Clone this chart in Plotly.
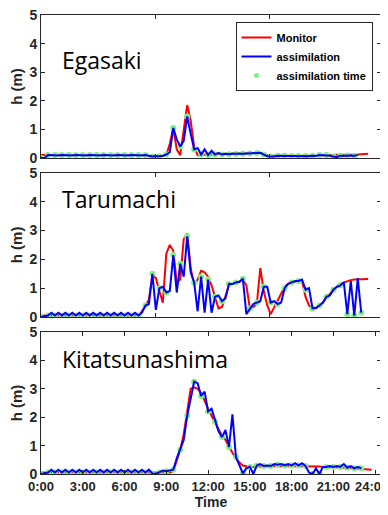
import plotly.graph_objects as go
from plotly.subplots import make_subplots

# time grid in hours (every 15 min)
times = [i * 0.25 for i in range(97)]
tick_vals = [0, 3, 6, 9, 12, 15, 18, 21, 24]
tick_text = ["0:00", "3:00", "6:00", "9:00", "12:00", "15:00", "18:00", "21:00", "24:00"]
stations = ["Egasaki", "Tarumachi", "Kitatsunashima"]

N = None
# ---------------- Egasaki ----------------
ega_monitor = (
    [0.1] * 31 + [0.06, 0.06, 0.06, 0.07, 0.08] +
    [0.1, 0.5, 1.05, 0.3, 0.1, 0.9, 1.85, 1.3, 0.4, 0.1,
     0.1, 0.1, 0.11, 0.12, 0.13, 0.14, 0.15, 0.15, 0.15, 0.16,
     0.16, 0.16, 0.17, 0.17, 0.17, 0.18, 0.18, 0.18, 0.15, 0.1,
     0.08, 0.08, 0.08, 0.07, 0.07, 0.07, 0.08, 0.08, 0.08, 0.08,
     0.08, 0.08, 0.08, 0.09, 0.09, 0.09, 0.1, 0.1, 0.1, 0.1,
     0.1, 0.1, 0.1, 0.11, 0.11, 0.12, 0.13, 0.14, 0.15, N, N]
)
ega_assim = (
    [0.0, 0.0] + [0.1, 0.09] * 14 + [0.1, 0.07, 0.05, 0.07, 0.06, 0.08] +
    [0.12, 0.2, 1.05, 0.65, 0.4, 0.6, 1.45, 0.85, 0.3, 0.35,
     0.12, 0.3, 0.1, 0.25, 0.12, 0.18, 0.12, 0.15, 0.13, 0.15,
     0.14, 0.15, 0.15, 0.16, 0.16, 0.17, 0.17, 0.18, 0.12, 0.06,
     0.05, 0.05, 0.08, 0.07, 0.08, 0.07, 0.07, 0.06, 0.07, 0.06,
     0.07, 0.06, 0.08, 0.07, 0.1, 0.1, 0.1, 0.08, 0.05, 0.03,
     0.08, 0.07, 0.09, 0.08, 0.08, 0.1] + [N] * 5
)
# ---------------- Tarumachi ----------------
tar_monitor = (
    [0.05] * 29 +
    [0.2, 0.4, 0.6, 1.45, 1.35, 0.9, 0.5, 2.2, 2.5, 2.3,
     1.2, 1.3, 2.7, 2.9, 1.7, 1.1, 1.3, 1.6, 1.55, 1.4,
     1.1, 0.7, 0.3, 0.35, 0.7, 1.1, 1.15, 1.18, 1.22, 1.3,
     1.1, 0.3, 0.35, 0.45, 1.7, 0.9, 0.4, 0.1, 0.35, 0.55,
     0.85, 1.05, 1.15, 1.2, 1.22, 1.25, 1.25, 0.7, 0.4, 0.28,
     0.3, 0.38, 0.5, 0.68, 0.8, 0.95, 1.05, 1.15, 1.2, 1.25,
     1.28, 1.3, 1.3, 1.32, 1.32, 1.32, N, N]
)
tar_assim = (
    [0.0, 0.02] + [0.05, 0.15] * 13 + [0.05, 0.15] +
    [0.4, 0.45, 1.5, 0.25, 1.0, 1.05, 0.85, 0.9, 2.15, 0.85,
     1.85, 1.4, 2.8, 1.55, 1.2, 0.2, 1.4, 0.15, 1.3, 0.15,
     0.7, 0.75, 0.55, 0.65, 1.15, 1.15, 1.2, 1.22, 1.33, 0.1,
     0.3, 0.45, 0.5, 0.55, 1.05, 1.05, 0.5, 0.55, 0.45, 0.5,
     1.0, 1.15, 1.2, 1.25, 1.25, 1.3, 0.95, 1.0, 0.3, 0.32,
     0.4, 0.5, 0.7, 0.75, 0.95, 1.05, 1.1, 1.2, 0.1, 1.25,
     0.05, 1.35, 0.15] + [N] * 4
)
# ---------------- Kitatsunashima ----------------
kit_monitor = (
    [0.05] * 38 +
    [0.1, 0.45, 0.85, 1.4, 2.25, 3.0, 3.05, 3.0, 2.85, 2.55,
     2.3, 2.05, 1.8, 1.55, 1.35, 1.2, 0.95, 0.75, 0.55, 0.4,
     0.3, 0.27,
     0.25, 0.25, 0.25, 0.26, 0.26, 0.27, 0.27, 0.28, 0.28, 0.28,
     0.28, 0.28, 0.28, 0.28, 0.28, 0.27, 0.27, 0.27, 0.26, 0.26,
     0.26, 0.25, 0.25, 0.25, 0.25,
     0.24, 0.23, 0.22, 0.21, 0.2, 0.19, 0.18, 0.17, 0.16, 0.15, 0.15, N]
)
kit_assim = (
    [0.0, 0.02] + [0.05, 0.15] * 15 +
    [0.02, 0.0, 0.05, 0.12, 0.1, 0.12, 0.15, 0.55, 0.85, 1.2,
     2.05, 2.6, 3.25, 3.2, 2.75, 2.9, 2.2, 2.3, 1.85, 1.5,
     1.3, 1.55, 0.95, 2.1, 0.6, 0.3, 0.02, 0.2, 0.25, 0.0,
     0.3, 0.35, 0.28, 0.3, 0.28, 0.35, 0.33, 0.35, 0.3, 0.35,
     0.3, 0.38, 0.3, 0.38, 0.28, 0.05, 0.0, 0.2, 0.0, 0.25,
     0.25, 0.28, 0.25, 0.28, 0.25, 0.35, 0.22, 0.28, 0.2, 0.25,
     0.2] + [N] * 4
)

monitor = [ega_monitor, tar_monitor, kit_monitor]
assim = [ega_assim, tar_assim, kit_assim]

fig = make_subplots(rows=3, cols=1)
domains = [[0.6885, 1.0], [0.342, 0.656], [0.0, 0.3094]]
RED, BLUE, GREEN = "#ff0000", "#0000ff", "#80f080"
AX = "#262626"
FONT = "Liberation Sans"

for k in range(3):
    r = k + 1
    # assimilation times every 30 min
    at_x = [times[i] for i in range(0, 97, 2) if assim[k][i] is not None]
    at_y = [assim[k][i] for i in range(0, 97, 2) if assim[k][i] is not None]
    fig.add_trace(go.Scatter(x=times, y=monitor[k], mode="lines", name="Monitor",
                             line=dict(color=RED, width=2), showlegend=(k == 0)), row=r, col=1)
    fig.add_trace(go.Scatter(x=at_x, y=at_y, mode="markers", name="assimilation time",
                             marker=dict(color=GREEN, size=6), showlegend=False), row=r, col=1)
    fig.add_trace(go.Scatter(x=times, y=assim[k], mode="lines", name="assimilation",
                             line=dict(color=BLUE, width=2), showlegend=(k == 0)), row=r, col=1)

# legend entry for the assimilation-time markers
fig.add_trace(go.Scatter(x=[None], y=[None], mode="markers", name="assimilation time",
                         marker=dict(color=GREEN, size=5), showlegend=True), row=1, col=1)

# last label padded so it stays inside the window, like the reference
bottom_text = tick_text[:-1] + [tick_text[-1] + "&nbsp;&nbsp;"]

label_y = [3.42, 4.1, 4.05]
for k in range(3):
    r = k + 1
    yname = "yaxis" if k == 0 else f"yaxis{r}"
    xname = "xaxis" if k == 0 else f"xaxis{r}"
    bottom = (k == 2)
    fig.layout[xname].update(
        domain=[0, 1], range=[0, 24.42], showline=True, mirror="ticks",
        linecolor=AX, linewidth=1, ticks="inside", ticklen=4, tickcolor=AX,
        showgrid=False, zeroline=False, automargin=False,
        ticklabeloverflow="allow",
        tickvals=tick_vals if bottom else [8.22, 16.44],
        ticktext=bottom_text if bottom else ["", ""],
        tickfont=dict(family=FONT, size=13, color=AX, weight="bold"),
        title=dict(text="Time", font=dict(family=FONT, size=14, color=AX, weight="bold"),
                   standoff=0) if bottom else None,
    )
    fig.layout[yname].update(
        domain=domains[k], range=[0, 5], showline=True, mirror="ticks",
        linecolor=AX, linewidth=1, ticks="inside", ticklen=4, tickcolor=AX,
        showgrid=False, zeroline=False, automargin=False,
        ticklabeloverflow="allow",
        tickvals=[0, 1, 2, 3, 4, 5],
        tickfont=dict(family=FONT, size=14, color=AX, weight="bold"),
        title=dict(text="h (m)", font=dict(family=FONT, size=15, color=AX, weight="bold"),
                   standoff=5),
    )
    fig.add_annotation(x=1.4, y=label_y[k], xref=f"x{'' if k == 0 else r}",
                       yref=f"y{'' if k == 0 else r}", text=stations[k],
                       showarrow=False, xanchor="left", yanchor="middle",
                       font=dict(family="Open Sans", size=23, color="black"))

# page body has an 8px default margin, so the figure is offset inside the window
fig.update_layout(
    width=388, height=507, margin=dict(l=33, r=15, t=7, b=41, autoexpand=False),
    paper_bgcolor="white", plot_bgcolor="white",
    legend=dict(x=0.975, y=0.985, xanchor="right", yanchor="top",
                bordercolor=AX, borderwidth=1, bgcolor="white",
                font=dict(family=FONT, size=11, color="black", weight="bold"),
                tracegroupgap=0, itemwidth=30),
)

fig.write_html("out.html")
